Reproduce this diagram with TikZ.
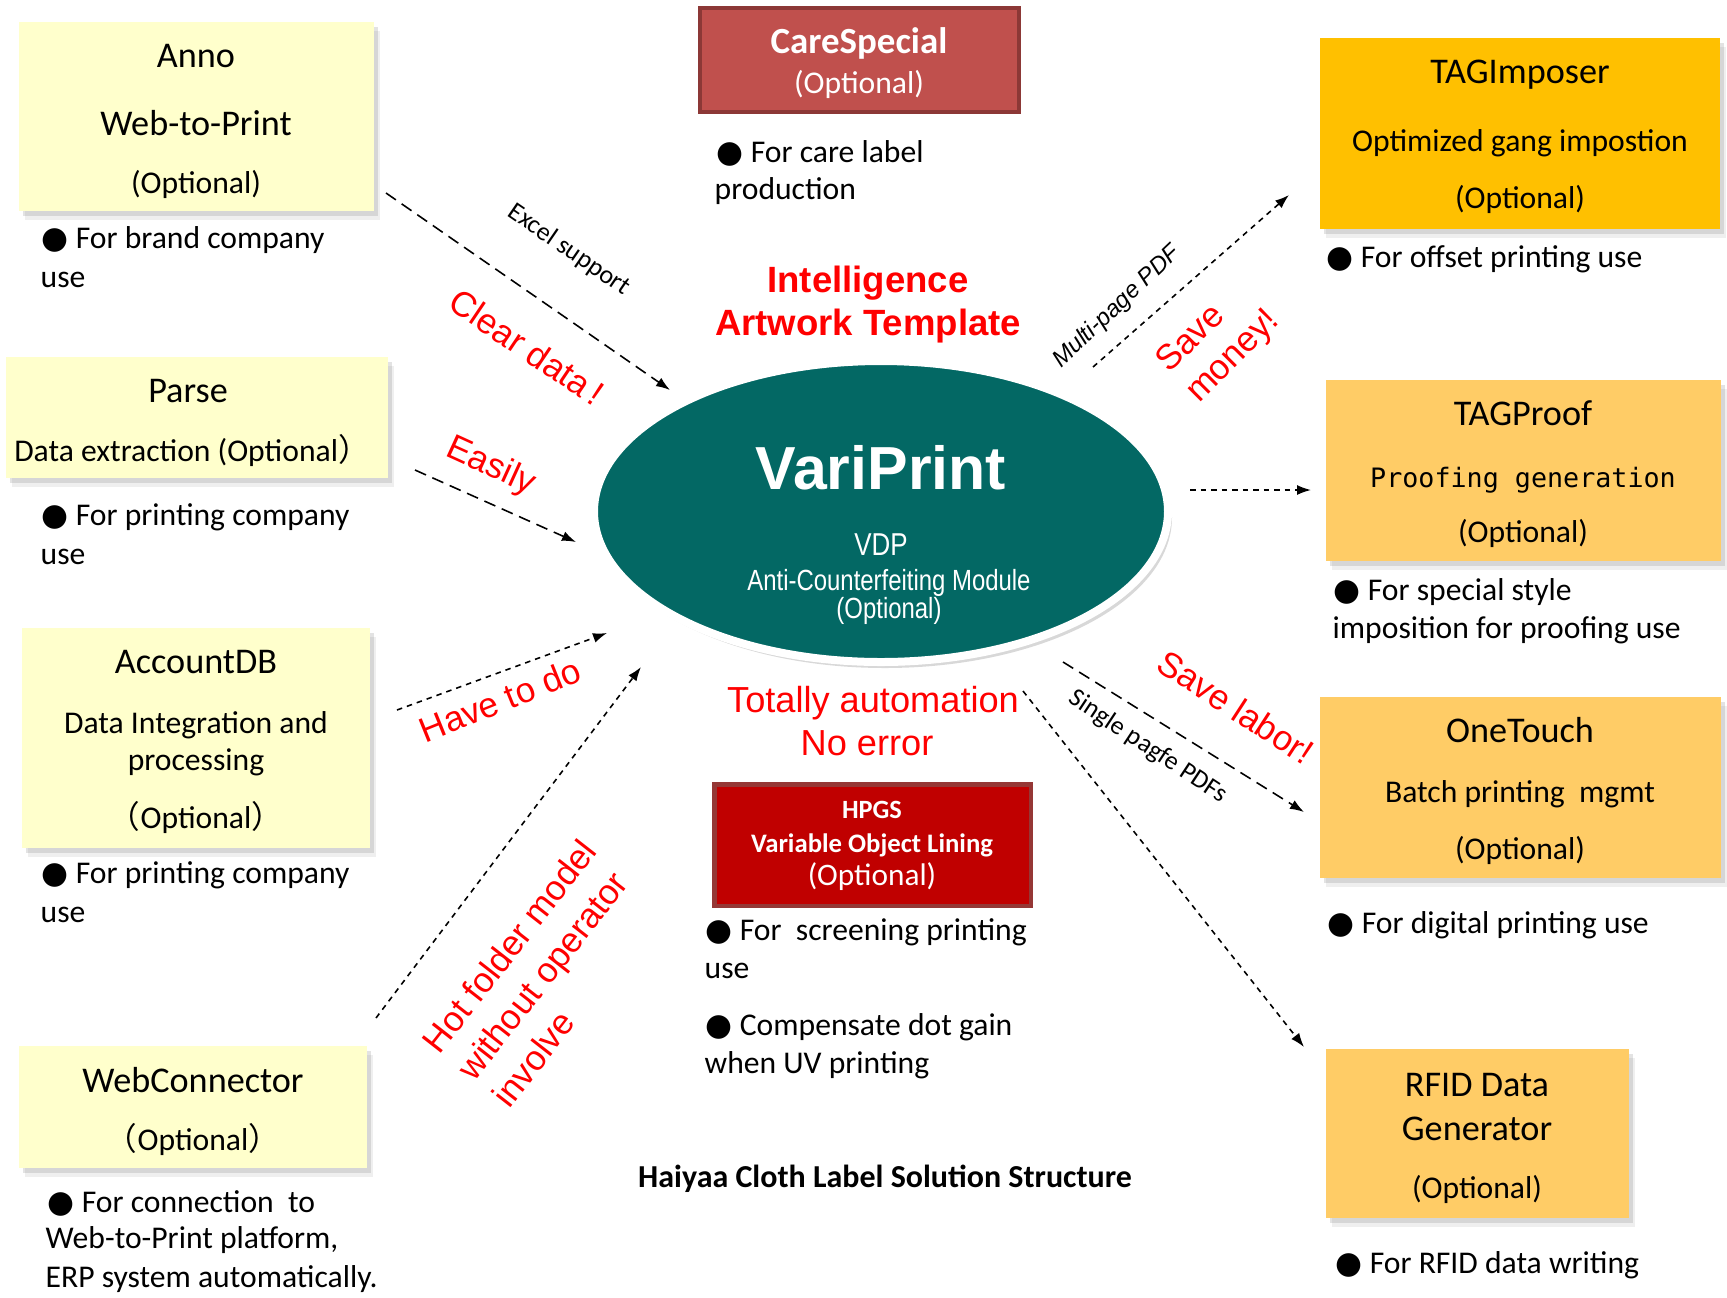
\documentclass[tikz,border=0pt]{standalone}
\usepackage{fontspec}
\setmainfont{Carlito}
\newfontfamily\arialf{Liberation Sans}
\newfontfamily\narrowf[FakeStretch=0.82]{Liberation Sans}
\newfontfamily\monof{DejaVu Sans Mono}
\newfontfamily\dejavuf{DejaVu Sans}
\newfontfamily\cjkf{Noto Sans CJK SC}
\usetikzlibrary{shapes.geometric,arrows.meta,shadows}
\newcommand\bul{{\dejavuf\fontsize{8.8}{10}\selectfont ●}}
\newcommand\fwlp{{\cjkf （}}
\newcommand\fwrp{{\cjkf ）}}
\definecolor{pyel}{HTML}{FFFFCC}
\definecolor{cgold}{HTML}{FFC000}
\definecolor{lorange}{HTML}{FFCC66}
\definecolor{caresp}{HTML}{C0504D}
\definecolor{careb}{HTML}{8C3836}
\definecolor{hpgsf}{HTML}{C00000}
\definecolor{hpgsb}{HTML}{953735}
\definecolor{tealf}{HTML}{036864}
\begin{document}
\begin{tikzpicture}[x=0.1mm,y=-0.1mm,
  shad/.style={drop shadow={shadow xshift=0.35mm,shadow yshift=-0.5mm,opacity=0.22},
               drop shadow={shadow xshift=0.6mm,shadow yshift=-0.85mm,opacity=0.12}},
  pbox/.style={rectangle,inner sep=0,draw=none,shad},
  ttl/.style={font=\fontsize{10.3}{12}\selectfont,inner sep=0,anchor=base},
  sub/.style={font=\fontsize{9}{11}\selectfont,inner sep=0,anchor=base},
  bl/.style={font=\fontsize{9}{11}\selectfont,inner sep=0,anchor=base west},
  rlab/.style={font=\arialf\fontsize{10}{12}\selectfont,text=red,inner sep=0,align=center},
  slab/.style={font=\fontsize{7.4}{9}\selectfont,inner sep=0},
  arr/.style={-{Latex[length=1.4mm,width=1mm]},line width=0.45pt},
  ldash/.style={dash pattern=on 1.2mm off 0.7mm},
  sdash/.style={dash pattern=on 0.55mm off 0.5mm},
  wtxt/.style={text=white,inner sep=0,anchor=base}
]
\useasboundingbox (0,0) rectangle (1727,1297);
\fill[white] (0,0) rectangle (1727,1297);

% ---------- left boxes ----------
\node[pbox,fill=pyel,minimum width=35.5mm,minimum height=18.9mm] (anno) at (196.5,116.5) {};
\node[ttl] (annoA) at (196,67) {Anno};
\node[ttl] (annoB) at (196,135) {Web-to-Print};
\node[sub] (annoC) at (196,193) {(Optional)};
\node[bl] (annoD) at (41,248) {\bul\ For brand company};
\node[bl] (annoE) at (40,287) {use};

\node[pbox,fill=pyel,minimum width=38.2mm,minimum height=12.1mm] (parse) at (197,417.5) {};
\node[ttl] (parseA) at (188,402) {Parse};
\node[sub] (parseB) at (192,461) {Data extraction (Optional\fwrp};
\node[bl] (parseC) at (41,525) {\bul\ For printing company};
\node[bl] (parseD) at (40,564) {use};

\node[pbox,fill=pyel,minimum width=34.8mm,minimum height=22mm] (acc) at (196,738) {};
\node[ttl] (accA) at (196,673) {AccountDB};
\node[sub] (accB) at (196,733) {Data Integration and};
\node[sub] (accC) at (196,770) {processing};
\node[sub] (accD) at (196,828) {\fwlp Optional\fwrp};
\node[bl] (accE) at (41,883) {\bul\ For printing company};
\node[bl] (accF) at (40,922) {use};

\node[pbox,fill=pyel,minimum width=34.8mm,minimum height=12.2mm] (web) at (193,1107) {};
\node[ttl] (webA) at (193,1092) {WebConnector};
\node[sub] (webB) at (193,1150) {\fwlp Optional\fwrp};
\node[bl] (webC) at (47,1212) {\bul\ For connection\ \ to};
\node[bl] (webD) at (45,1248) {Web-to-Print platform,};
\node[bl] (webE) at (45,1287) {ERP system automatically.};

% ---------- top / bottom middle ----------
\node[rectangle,inner sep=0,fill=caresp,draw=careb,line width=0.4mm,minimum width=31.9mm,minimum height=10.4mm] (care) at (859.5,60) {};
\node[wtxt,font=\bfseries\fontsize{10.5}{12}\selectfont] (careA) at (859,53) {CareSpecial};
\node[wtxt,font=\fontsize{9}{11}\selectfont] (careB) at (859,93) {(Optional)};
\node[bl] (careC) at (716,162) {\bul\ For care label};
\node[bl] (careD) at (714,199) {production};

\node[rlab,font=\arialf\bfseries\fontsize{10.4}{12}\selectfont,anchor=base] (intA) at (868,292) {Intelligence};
\node[rlab,font=\arialf\bfseries\fontsize{10.4}{12}\selectfont,anchor=base] (intB) at (868,335) {Artwork Template};

\node[ellipse,fill=tealf,draw=white,line width=0.8mm,inner sep=0,minimum width=57.4mm,minimum height=30.1mm,
      drop shadow={shadow xshift=0.4mm,shadow yshift=-0.6mm,opacity=0.3}] (vp) at (881,511.5) {};
\node[wtxt,font=\arialf\bfseries\fontsize{17.3}{20}\selectfont] (vpA) at (881,489) {VariPrint};
\node[wtxt,font=\narrowf\fontsize{9}{11}\selectfont] (vpB) at (881,555) {VDP};
\node[wtxt,font=\narrowf\fontsize{8.3}{10}\selectfont] (vpC) at (889,590) {Anti-Counterfeiting Module};
\node[wtxt,font=\narrowf\fontsize{8.3}{10}\selectfont] (vpD) at (889,618) {(Optional)};

\node[rlab,font=\arialf\fontsize{10.3}{12}\selectfont,anchor=base] (autA) at (873,712) {Totally automation};
\node[rlab,font=\arialf\fontsize{10.3}{12}\selectfont,anchor=base] (autB) at (867,755) {No error};

\node[rectangle,inner sep=0,fill=hpgsf,draw=hpgsb,line width=0.45mm,minimum width=31.65mm,minimum height=12.15mm] (hpgs) at (872.5,845) {};
\node[wtxt,font=\bfseries\fontsize{7.5}{9}\selectfont] (hpA) at (872,818) {HPGS};
\node[wtxt,font=\bfseries\fontsize{7.6}{9}\selectfont] (hpB) at (872,852) {Variable Object Lining};
\node[wtxt,font=\fontsize{8.9}{11}\selectfont] (hpC) at (872,885) {(Optional)};
\node[bl] (hpD) at (705,940) {\bul\ For\ \ screening printing};
\node[bl] (hpE) at (704,978) {use};
\node[bl] (hpF) at (705,1035) {\bul\ Compensate dot gain};
\node[bl] (hpG) at (704,1073) {when UV printing};

\node[font=\bfseries\fontsize{9.1}{11}\selectfont,inner sep=0,anchor=base] (cap) at (885,1187) {Haiyaa Cloth Label Solution Structure};

% ---------- right boxes ----------
\node[pbox,fill=cgold,minimum width=40mm,minimum height=19.1mm] (imp) at (1520,133.5) {};
\node[ttl] (impA) at (1520,83) {TAGImposer};
\node[sub] (impB) at (1520,151) {Optimized gang impostion};
\node[sub] (impC) at (1520,208) {(Optional)};
\node[bl] (impD) at (1326,267) {\bul\ For offset printing use};

\node[pbox,fill=lorange,minimum width=39.5mm,minimum height=18.1mm] (proof) at (1523.5,470.5) {};
\node[ttl] (proofA) at (1523,425) {TAGProof};
\node[inner sep=0,anchor=base,font=\monof\fontsize{7.6}{9}\selectfont] (proofB) at (1523,487) {Proofing generation};
\node[sub] (proofC) at (1523,542) {(Optional)};
\node[bl] (proofD) at (1333,600) {\bul\ For special style};
\node[bl] (proofE) at (1332,638) {imposition for proofing use};

\node[pbox,fill=lorange,minimum width=40.1mm,minimum height=18.1mm] (one) at (1520.5,787.5) {};
\node[ttl] (oneA) at (1520,742) {OneTouch};
\node[sub] (oneB) at (1520,802) {Batch printing\ \ mgmt};
\node[sub] (oneC) at (1520,859) {(Optional)};
\node[bl] (oneD) at (1327,933) {\bul\ For digital printing use};

\node[pbox,fill=lorange,minimum width=30.3mm,minimum height=16.9mm] (rfid) at (1477.5,1133.5) {};
\node[ttl] (rfidA) at (1477,1096) {RFID Data};
\node[ttl] (rfidB) at (1477,1140) {Generator};
\node[sub] (rfidC) at (1477,1198) {(Optional)};
\node[bl] (rfidD) at (1335,1273) {\bul\ For RFID data writing};

% ---------- connector end points ----------
\coordinate (a1s) at (386,193);   \coordinate (a1e) at (670,390);
\coordinate (a2s) at (415,470);   \coordinate (a2e) at (576,542);
\coordinate (a3s) at (397,710);   \coordinate (a3e) at (607,633);
\coordinate (a4s) at (376,1018);  \coordinate (a4e) at (641,667);
\coordinate (a5s) at (1093,367);  \coordinate (a5e) at (1289,195);
\coordinate (a6s) at (1190,490);  \coordinate (a6e) at (1311,490);
\coordinate (a7s) at (1063,662);  \coordinate (a7e) at (1304,812);
\coordinate (a8s) at (1023,691);  \coordinate (a8e) at (1304,1047);

\draw[arr,ldash] (a1s) -- (a1e);
\draw[arr,ldash] (a2s) -- (a2e);
\draw[arr,sdash] (a3s) -- (a3e);
\draw[arr,sdash] (a4s) -- (a4e);
\draw[arr,sdash] (a5s) -- (a5e);
\draw[arr,sdash] (a6s) -- (a6e);
\draw[arr,ldash] (a7s) -- (a7e);
\draw[arr,sdash] (a8s) -- (a8e);

% ---------- connector labels ----------
\node[slab,rotate=-34.5] (l1) at (569,250) {Excel support};
\node[rlab,rotate=-34] (r1) at (527,347) {Clear data\,!};
\node[rlab,rotate=-24.5] (r2) at (491,467) {Easily};
\node[rlab,rotate=22] (r3) at (500,700) {Have to do};
\node[rlab,align=left,rotate=52,font=\arialf\fontsize{10}{12.6}\selectfont] (r4) at (544,973) {Hot folder model\\without operator\\involve};
\node[slab,font=\arialf\itshape\fontsize{6.8}{8}\selectfont,rotate=43.5] (l5) at (1117,307) {Multi-page PDF};
\node[rlab,align=left,rotate=45] (r5) at (1219,342) {Save\\money!};
\node[slab,rotate=-33.5] (l7) at (1148,747) {Single pagfe PDFs};
\node[rlab,rotate=-33] (r7) at (1236,707) {Save labor!};
\end{tikzpicture}
\end{document}
